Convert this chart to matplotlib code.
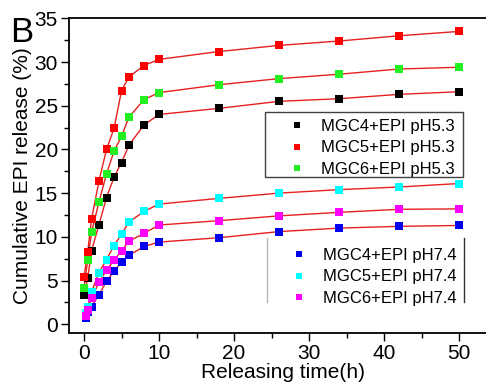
import matplotlib
matplotlib.use('Agg')
import matplotlib.pyplot as plt
from matplotlib.lines import Line2D
from matplotlib.patches import Rectangle

plt.rcParams['font.family'] = ['Liberation Sans', 'DejaVu Sans']
plt.rcParams['font.size'] = 15

# release time (h)
t_acid = [0, 0.5, 1, 2, 3, 4, 5, 6, 8, 10, 18, 26, 34, 42, 50]
t_neutral = [0.2, 0.5, 1, 2, 3, 4, 5, 6, 8, 10, 18, 26, 34, 42, 50]

# cumulative release (%)
mgc4_ph53 = [3.35, 5.3, 8.4, 11.4, 14.5, 16.8, 18.5, 20.5, 22.8, 24.0, 24.7, 25.5, 25.8, 26.3, 26.6]
mgc5_ph53 = [5.4, 8.3, 12.0, 16.4, 20.0, 22.4, 26.7, 28.3, 29.6, 30.3, 31.2, 31.9, 32.4, 33.0, 33.5]
mgc6_ph53 = [4.2, 7.4, 10.5, 14.0, 17.2, 19.8, 21.5, 23.7, 25.7, 26.5, 27.4, 28.1, 28.6, 29.2, 29.4]
mgc4_ph74 = [0.75, 1.4, 2.0, 3.4, 4.9, 6.1, 7.1, 7.9, 8.9, 9.4, 9.9, 10.6, 11.0, 11.2, 11.3]
mgc5_ph74 = [1.3, 2.0, 3.7, 5.9, 7.4, 9.0, 10.3, 11.7, 12.9, 13.75, 14.4, 15.0, 15.4, 15.7, 16.1]
mgc6_ph74 = [1.0, 1.6, 3.0, 4.8, 6.2, 7.3, 8.4, 9.5, 10.4, 11.35, 11.85, 12.4, 12.8, 13.15, 13.2]

acid = [('MGC4+EPI pH5.3', mgc4_ph53, 'black'),
        ('MGC5+EPI pH5.3', mgc5_ph53, '#ff0000'),
        ('MGC6+EPI pH5.3', mgc6_ph53, '#22ee22')]
neutral = [('MGC4+EPI pH7.4', mgc4_ph74, '#0000ee'),
           ('MGC5+EPI pH7.4', mgc5_ph74, '#00ffff'),
           ('MGC6+EPI pH7.4', mgc6_ph74, '#ff00ff')]

fig = plt.figure(figsize=(4.86, 3.84), dpi=100)
ax = fig.add_axes([69 / 486, 51 / 384, 427.5 / 486, 314.7 / 384])

h_acid = []
h_neutral = []
for t, group, handles in ((t_acid, acid, h_acid), (t_neutral, neutral, h_neutral)):
    for name, y, c in group:
        ax.plot(t, y, color='#e82020', linewidth=1.0, zorder=2)
        ax.plot(t, y, linestyle='none', marker='s', markersize=6, color=c,
                markeredgewidth=0, zorder=3)
        handles.append(Line2D([], [], linestyle='none', marker='s', markersize=5,
                              color=c, markeredgewidth=0, label=name))

ax.set_xlim(-2, 55)
ax.set_ylim(-1, 35)
ax.set_xticks([0, 10, 20, 30, 40, 50])
ax.set_xticks([5, 15, 25, 35, 45], minor=True)
ax.set_yticks([0, 5, 10, 15, 20, 25, 30, 35])
ax.set_yticks([2.5, 7.5, 12.5, 17.5, 22.5, 27.5, 32.5], minor=True)
ax.tick_params(which='major', direction='out', length=6, width=1, labelsize=15, pad=2)
ax.tick_params(which='minor', direction='out', length=3.5, width=1)
ax.tick_params(top=False, right=False)
for s in ax.spines.values():
    s.set_linewidth(1.3)

ax.set_xlabel('Releasing time(h)', fontsize=15, labelpad=0)
ax.set_ylabel('Cumulative EPI release (%)', fontsize=15, labelpad=2)

common = dict(fontsize=12, frameon=False, handlelength=3.12, handletextpad=-0.12,
              labelspacing=0.38, borderpad=0, borderaxespad=0, loc='upper left')
leg1 = ax.legend(handles=h_acid, bbox_to_anchor=(0.4725, 0.6800), **common)
ax.add_artist(leg1)
leg2 = ax.legend(handles=h_neutral, bbox_to_anchor=(0.4772, 0.2700), **common)

# frame of the upper legend
ax.add_patch(Rectangle((0.4585, 0.4957), 0.9216 - 0.4585, 0.7023 - 0.4957,
                       transform=ax.transAxes, fill=False, edgecolor='#404040',
                       linewidth=1.0, zorder=4))
# side bars of the lower legend box
ax.add_line(Line2D([0.4624, 0.4624], [0.0985, 0.3007], transform=ax.transAxes,
                   color='#b8b8b8', linewidth=1.0))
ax.add_line(Line2D([0.9240, 0.9240], [0.0985, 0.3007], transform=ax.transAxes,
                   color='#303030', linewidth=1.0))

fig.text(10 / 486, 1 - 42 / 384, 'B', fontsize=25)

fig.savefig('out.png', dpi=100)
